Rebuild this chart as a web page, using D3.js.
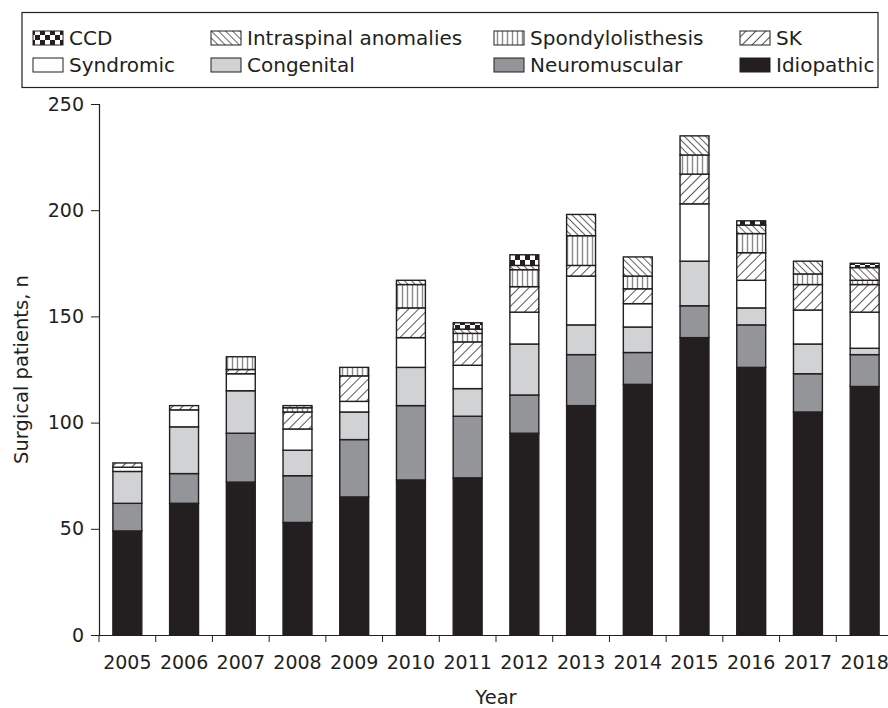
<!DOCTYPE html>
<html>
<head>
<meta charset="utf-8">
<script src="https://cdn.jsdelivr.net/npm/d3@7"></script>
<style>
  body { margin: 0; background: #fff; }
  svg text { font-family: "DejaVu Sans", sans-serif; fill: #231f20; }
</style>
</head>
<body>
<script>
/* DATA */
const years = ["2005", "2006", "2007", "2008", "2009", "2010", "2011", "2012", "2013", "2014", "2015", "2016", "2017", "2018"];
const idiopathic = [49, 62, 72, 53, 65, 73, 74, 95, 108, 118, 140, 126, 105, 117];
const neuromuscular = [13, 14, 23, 22, 27, 35, 29, 18, 24, 15, 15, 20, 18, 15];
const congenital = [15, 22, 20, 12, 13, 18, 13, 24, 14, 12, 21, 8, 14, 3];
const syndromic = [2, 8, 8, 10, 5, 14, 11, 15, 23, 11, 27, 13, 16, 17];
const sk = [2, 2, 2, 8, 12, 14, 11, 12, 5, 7, 14, 13, 12, 13];
const spondylolisthesis = [0, 0, 6, 2, 4, 11, 4, 8, 14, 6, 9, 9, 5, 2];
const intraspinal = [0, 0, 0, 1, 0, 2, 2, 2, 10, 9, 9, 4, 6, 6];
const ccd = [0, 0, 0, 0, 0, 0, 3, 5, 0, 0, 0, 2, 0, 2];
const yTicks = [0, 50, 100, 150, 200, 250];

// stacking order, bottom to top
const keys = ["Idiopathic", "Neuromuscular", "Congenital", "Syndromic", "SK", "Spondylolisthesis", "Intraspinal anomalies", "CCD"];
const seriesValues = [idiopathic, neuromuscular, congenital, syndromic, sk, spondylolisthesis, intraspinal, ccd];

// legend order as in the figure (two rows of four)
const legendRows = [
  ["CCD", "Intraspinal anomalies", "Spondylolisthesis", "SK"],
  ["Syndromic", "Congenital", "Neuromuscular", "Idiopathic"]
];

const width = 888, height = 708;
const margin = { top: 104, left: 99, bottom: 73 };
const plotRight = 893;

const rows = years.map((y, i) => {
  const r = { year: y };
  keys.forEach((k, j) => r[k] = seriesValues[j][i]);
  return r;
});

const svg = d3.select("body").append("svg")
  .attr("width", width)
  .attr("height", height);

// fill patterns
const defs = svg.append("defs");

const pCcd = defs.append("pattern").attr("id", "p-ccd")
  .attr("patternUnits", "userSpaceOnUse").attr("width", 10).attr("height", 10);
pCcd.append("rect").attr("width", 10).attr("height", 10).attr("fill", "#fff");
pCcd.append("rect").attr("width", 5).attr("height", 5).attr("fill", "#231f20");
pCcd.append("rect").attr("x", 5).attr("y", 5).attr("width", 5).attr("height", 5).attr("fill", "#231f20");

const pIntra = defs.append("pattern").attr("id", "p-intra")
  .attr("patternUnits", "userSpaceOnUse").attr("width", 5).attr("height", 5)
  .attr("patternTransform", "rotate(-45)");
pIntra.append("rect").attr("width", 5).attr("height", 5).attr("fill", "#fff");
pIntra.append("line").attr("x1", 2.5).attr("x2", 2.5).attr("y1", 0).attr("y2", 5)
  .attr("stroke", "#555").attr("stroke-width", 0.9);

const pSpondy = defs.append("pattern").attr("id", "p-spondy")
  .attr("patternUnits", "userSpaceOnUse").attr("width", 5).attr("height", 5);
pSpondy.append("rect").attr("width", 5).attr("height", 5).attr("fill", "#fff");
pSpondy.append("line").attr("x1", 2.5).attr("x2", 2.5).attr("y1", 0).attr("y2", 5)
  .attr("stroke", "#8a8a8a").attr("stroke-width", 1.4);

const pSk = defs.append("pattern").attr("id", "p-sk")
  .attr("patternUnits", "userSpaceOnUse").attr("width", 7).attr("height", 7)
  .attr("patternTransform", "rotate(45)");
pSk.append("rect").attr("width", 7).attr("height", 7).attr("fill", "#fff");
pSk.append("line").attr("x1", 3.5).attr("x2", 3.5).attr("y1", 0).attr("y2", 7)
  .attr("stroke", "#444").attr("stroke-width", 0.9);

const fills = {
  "CCD": "url(#p-ccd)",
  "Intraspinal anomalies": "url(#p-intra)",
  "Spondylolisthesis": "url(#p-spondy)",
  "SK": "url(#p-sk)",
  "Syndromic": "#ffffff",
  "Congenital": "#d1d2d4",
  "Neuromuscular": "#939598",
  "Idiopathic": "#231f20"
};

// scales
const x = d3.scaleBand()
  .domain(years)
  .range([margin.left, plotRight])
  .paddingInner(0.49)
  .paddingOuter(0.245);

const y = d3.scaleLinear()
  .domain([0, 250])
  .range([height - margin.bottom, margin.top]);

// stacked bars
const stacked = d3.stack().keys(keys)(rows);

svg.append("g")
  .selectAll("g")
  .data(stacked)
  .join("g")
  .attr("fill", d => fills[d.key])
  .selectAll("rect")
  .data(d => d.filter(s => s[1] - s[0] > 0))
  .join("rect")
  .attr("x", d => x(d.data.year))
  .attr("y", d => y(d[1]))
  .attr("width", x.bandwidth())
  .attr("height", d => y(d[0]) - y(d[1]))
  .attr("stroke", "#231f20")
  .attr("stroke-width", 1.4);

// y axis
const yAxis = svg.append("g")
  .attr("transform", `translate(${margin.left},0)`)
  .call(d3.axisLeft(y).tickValues(yTicks).tickSize(8).tickPadding(7));
yAxis.selectAll("text").style("font-size", "19px");

// x axis: labels centred on bars, ticks at band boundaries
const xAxis = svg.append("g")
  .attr("transform", `translate(0,${y(0)})`)
  .call(d3.axisBottom(x).tickSize(0).tickPadding(21));
xAxis.selectAll("text").style("font-size", "19px");

const half = x.step() * x.paddingInner() / 2;
svg.append("g")
  .selectAll("line")
  .data(years.concat(["end"]))
  .join("line")
  .attr("x1", (d, i) => i < years.length ? x(d) - half : x(years[years.length - 1]) + x.bandwidth() + half)
  .attr("x2", (d, i) => i < years.length ? x(d) - half : x(years[years.length - 1]) + x.bandwidth() + half)
  .attr("y1", y(0))
  .attr("y2", y(0) + 7)
  .attr("stroke", "#231f20");

svg.selectAll(".domain").attr("stroke", "#231f20").attr("stroke-width", 1.2);
svg.selectAll(".tick line").attr("stroke", "#231f20");

// axis titles
svg.append("text")
  .attr("x", (margin.left + plotRight) / 2)
  .attr("y", 704)
  .attr("text-anchor", "middle")
  .style("font-size", "19.5px")
  .text("Year");

svg.append("text")
  .attr("transform", `translate(28,${(y(0) + y(250)) / 2}) rotate(-90)`)
  .attr("text-anchor", "middle")
  .style("font-size", "19.5px")
  .text("Surgical patients, n");

// legend
const legend = svg.append("g");
legend.append("rect")
  .attr("x", 22).attr("y", 12.5)
  .attr("width", 856).attr("height", 75)
  .attr("fill", "#fff")
  .attr("stroke", "#231f20")
  .attr("stroke-width", 1.2);

const colX = [33, 211, 494, 740];
const rowY = [31, 58];
legendRows.forEach((row, r) => {
  row.forEach((k, c) => {
    legend.append("rect")
      .attr("x", colX[c]).attr("y", rowY[r])
      .attr("width", 30).attr("height", 14)
      .attr("fill", fills[k])
      .attr("stroke", "#231f20")
      .attr("stroke-width", 1);
    legend.append("text")
      .attr("x", colX[c] + 36)
      .attr("y", rowY[r] + 14)
      .style("font-size", "20px")
      .text(k);
  });
});
</script>
</body>
</html>
